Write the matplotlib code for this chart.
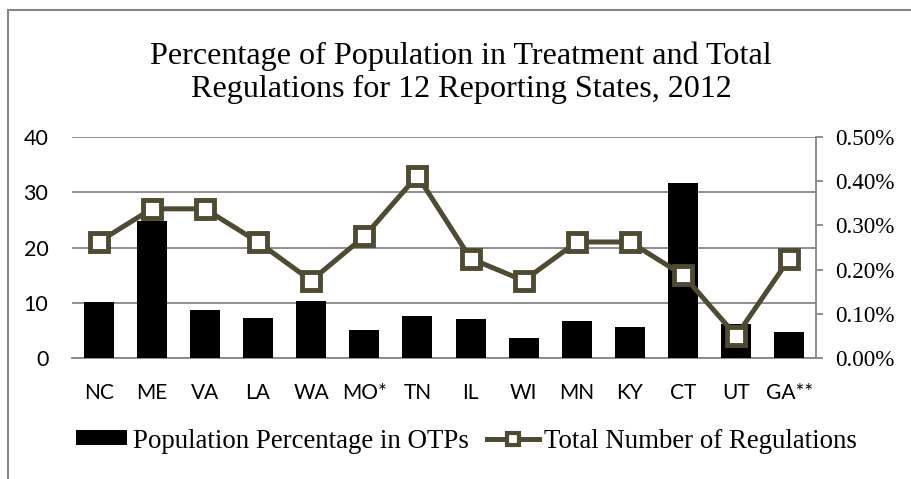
import numpy as np
import matplotlib
matplotlib.use('Agg')
import matplotlib.pyplot as plt
from matplotlib.ticker import FuncFormatter

# data
states = ['NC', 'ME', 'VA', 'LA', 'WA', 'MO*', 'TN', 'IL', 'WI', 'MN', 'KY', 'CT', 'UT', 'GA**']
pop_pct = [0.126, 0.311, 0.109, 0.090, 0.130, 0.064, 0.096, 0.089, 0.045, 0.083, 0.071, 0.396, 0.078, 0.059]  # percent
regulations = [21, 27, 27, 21, 14, 22, 33, 18, 14, 21, 21, 15, 4, 18]
reg_ticks = [0, 10, 20, 30, 40]
pct_ticks = [0.0, 0.1, 0.2, 0.3, 0.4, 0.5]

line_color = '#4f4a32'
grid_color = '#868686'
serif = 'Liberation Serif'
sans = 'Lato'

fig = plt.figure(figsize=(9.12, 4.79), dpi=100)

# outer chart border (only top and left edge visible in the crop)
fig.add_artist(plt.Line2D([8 / 912, 1], [1 - 10 / 479, 1 - 10 / 479], color=grid_color, lw=1.5))
fig.add_artist(plt.Line2D([8 / 912, 8 / 912], [0, 1 - 10 / 479], color=grid_color, lw=1.5))

fig.text(0.5055, 0.848, 'Percentage of Population in Treatment and Total\nRegulations for 12 Reporting States, 2012',
         ha='center', va='center', fontsize=23.1, family=serif, linespacing=1.2)

rect = [72 / 912, 1 - 358 / 479, 744 / 912, 221 / 479]
x = np.arange(len(states))

# left axis: regulation scale + gridlines
ax = fig.add_axes(rect)
ax.set_xlim(-0.5, len(states) - 0.5)
ax.set_ylim(0, 40)
ax.set_yticks(reg_ticks)
ax.yaxis.grid(True, color=grid_color, lw=1.3)
ax.set_axisbelow(True)
ax.tick_params(axis='y', length=0, pad=17, labelsize=15.5, labelfontfamily=sans)
ax.set_xticks(x)
ax.set_xticklabels(states)
ax.tick_params(axis='x', length=0, pad=18, labelsize=15, labelfontfamily=sans)
for s in ['left', 'right', 'top']:
    ax.spines[s].set_visible(False)
ax.spines['bottom'].set_color(grid_color)
ax.spines['bottom'].set_linewidth(1.3)

# right axis: population percentage bars
ax2 = ax.twinx()
bars = ax2.bar(x, pop_pct, width=0.565, color='black', zorder=2)
ax2.set_ylim(0, 0.5)
ax2.set_yticks(pct_ticks)
ax2.yaxis.set_major_formatter(FuncFormatter(lambda v, p: '%.2f%%' % v))
ax2.tick_params(axis='y', direction='out', length=5, width=1.3, color=grid_color, pad=9,
                labelsize=16.7, labelfontfamily=serif)
for s in ['left', 'top', 'bottom']:
    ax2.spines[s].set_visible(False)
ax2.spines['right'].set_color(grid_color)
ax2.spines['right'].set_linewidth(1.3)

# line on top, same scale as the left axis
ax3 = ax.twinx()
ax3.set_ylim(ax.get_ylim())
ax3.axis('off')
ax3.plot(x, regulations, color=line_color, lw=3.6, marker='s', markersize=13,
         markerfacecolor='white', markeredgecolor=line_color, markeredgewidth=3.5,
         clip_on=False, zorder=3)

# legend uses a smaller marker than the plotted line
line_handle = plt.Line2D([], [], color=line_color, lw=3.6, marker='s', markersize=9,
                         markerfacecolor='white', markeredgecolor=line_color, markeredgewidth=3)
fig.legend([bars, line_handle], ['Population Percentage in OTPs', 'Total Number of Regulations'],
           loc='center', bbox_to_anchor=(0.5115, 1 - 441 / 479), ncol=2, frameon=False,
           prop={'family': serif, 'size': 19.4}, handlelength=1.9, handleheight=0.47,
           handletextpad=0.2, columnspacing=0.7, numpoints=1, borderaxespad=0)

fig.savefig('out.png', dpi=100)
